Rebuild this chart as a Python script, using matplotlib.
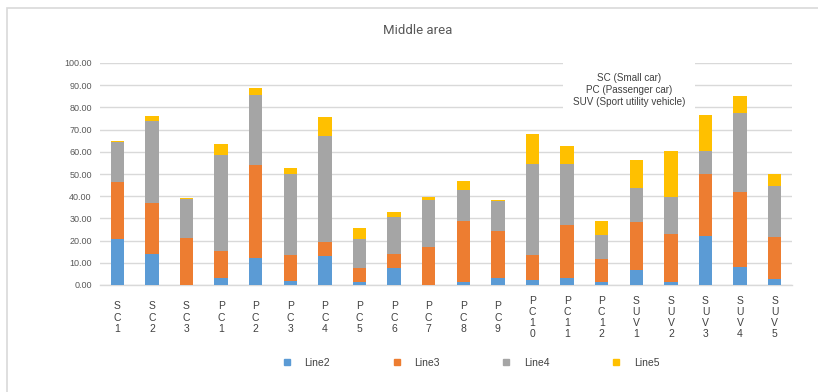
import numpy as np
import matplotlib.pyplot as plt
from matplotlib.lines import Line2D
from matplotlib.patches import Rectangle

plt.rcParams['font.family'] = ['Liberation Sans', 'DejaVu Sans']

# vehicles on the x axis
cats = ['SC1', 'SC2', 'SC3', 'PC1', 'PC2', 'PC3', 'PC4', 'PC5', 'PC6', 'PC7', 'PC8',
        'PC9', 'PC10', 'PC11', 'PC12', 'SUV1', 'SUV2', 'SUV3', 'SUV4', 'SUV5']

line2 = [20.7, 14.1, 0.0, 3.0, 12.3, 1.7, 12.9, 1.5, 7.5, 0.0, 1.5,
         3.0, 2.3, 3.0, 1.2, 6.8, 1.5, 22.1, 8.1, 2.6]
line3 = [25.5, 23.0, 21.1, 12.3, 41.7, 11.8, 6.6, 6.3, 6.5, 17.1, 27.2,
         21.1, 11.1, 23.9, 10.5, 21.6, 21.4, 27.7, 34.0, 19.1]
line4 = [18.2, 36.9, 17.8, 43.3, 31.7, 36.4, 47.7, 12.8, 16.5, 21.2, 14.2,
         13.9, 41.2, 27.7, 10.9, 15.1, 16.9, 10.4, 35.3, 23.0]
line5 = [0.3, 2.2, 0.5, 5.0, 3.0, 3.0, 8.4, 5.3, 2.3, 1.4, 4.0,
         0.5, 13.4, 7.8, 6.4, 12.6, 20.4, 16.5, 7.9, 5.5]

series = [('Line2', line2, '#5B9BD5'), ('Line3', line3, '#ED7D31'),
          ('Line4', line4, '#A5A5A5'), ('Line5', line5, '#FFC000')]

W, H = 818, 392
fig = plt.figure(figsize=(W / 100, H / 100), dpi=100)
fig.patch.set_facecolor('white')

# chart frame
fig.patches.append(Rectangle((7 / W, -0.1), 1.2, 1 - 8 / H + 0.1, transform=fig.transFigure,
                             fill=False, edgecolor='#D9D9D9', linewidth=1.2))

ax = fig.add_axes([100 / W, 1 - 285 / H, 692 / W, 222 / H])
x = np.arange(len(cats))
bottom = np.zeros(len(cats))
for name, vals, col in series:
    ax.bar(x, vals, 0.39, bottom=bottom, color=col, label=name, zorder=3)
    bottom += np.array(vals)

ax.set_xlim(-0.5, len(cats) - 0.5)
ax.set_ylim(0, 100)
ax.set_yticks(np.arange(0, 101, 10))
ax.set_yticklabels(['%.2f' % v for v in np.arange(0, 101, 10)])
ax.yaxis.grid(True, color='#D9D9D9', linewidth=1.0, zorder=0)
for s in ['top', 'right', 'left']:
    ax.spines[s].set_visible(False)
ax.spines['bottom'].set_color('#D9D9D9')
ax.spines['bottom'].set_linewidth(1.0)
ax.tick_params(axis='y', length=0, pad=6, labelsize=6.5, labelcolor='#595959')

ax.set_xticks(x)
ax.set_xticklabels(['\n'.join(c) for c in cats], fontsize=7.5, color='#404040',
                   va='center', linespacing=1.15)
ax.tick_params(axis='x', length=0, pad=23.5)

ax.text(0.765, 0.878, 'SC (Small car)\nPC (Passenger car)\nSUV (Sport utility vehicle)',
        transform=ax.transAxes, ha='center', va='center', fontsize=7.1, color='#404040',
        linespacing=1.3, zorder=5,
        bbox=dict(boxstyle='square,pad=1.0', facecolor='white', edgecolor='none'))

fig.text(418 / W, 1 - 30 / H, 'Middle area', ha='center', va='center',
         fontsize=9.5, color='#595959', family=['Roboto', 'DejaVu Sans'])

handles = [Line2D([], [], marker='s', linestyle='none', markersize=4.5,
                  markerfacecolor=col, markeredgecolor=col) for _, _, col in series]
fig.legend(handles, [s[0] for s in series], loc='center', ncol=4,
           bbox_to_anchor=(471 / W, 1 - 363 / H), frameon=False, fontsize=7.5,
           handlelength=0.8, handletextpad=1.3, columnspacing=6.0,
           labelcolor='#404040')

fig.savefig('out.png', dpi=100)
